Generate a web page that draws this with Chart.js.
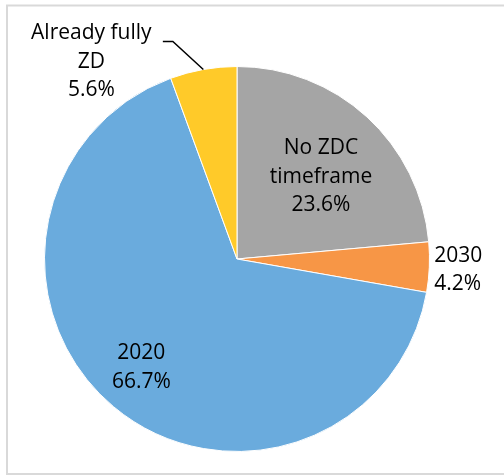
<!DOCTYPE html>
<html>
<head>
<meta charset="utf-8">
<title>ZDC timeframe</title>
<script src="https://cdn.jsdelivr.net/npm/chart.js@4/dist/chart.umd.min.js"></script>
<style>
  html, body { margin: 0; padding: 0; background: #ffffff; }
  #wrap { position: relative; width: 504px; height: 475px; }
</style>
</head>
<body>
<div id="wrap"><canvas id="chart" width="504" height="475"></canvas></div>
<script>
// Share of companies by zero-deforestation commitment timeframe
const categories = [['No ZDC', 'timeframe'], ['2030'], ['2020'], ['Already fully', 'ZD']];
const shares = [23.6, 4.2, 66.7, 5.6];
const sliceColors = ['#A5A5A5', '#F79646', '#6AABDD', '#FFCA29'];

// Where each data label sits relative to its slice (fraction of radius along the
// slice's middle angle, plus a small nudge). Outside labels may have a leader line.
const labelPlacement = [
  { rf: 0.60, dx: 6, dy: 3, align: 'center' },
  { rf: 1.00, dx: 5, dy: 3, align: 'left' },
  { rf: 0.75, dx: -3, dy: -2, align: 'center' },
  { rf: 1.00, dx: -112, dy: -7.5, align: 'center', leader: [[-30.5, -28], [-40.5, -28]] }
];

const frame = {
  id: 'frame',
  beforeDraw(chart) {
    const ctx = chart.ctx;
    ctx.save();
    ctx.fillStyle = '#ffffff';
    ctx.fillRect(0, 0, chart.width, chart.height);
    ctx.strokeStyle = '#D9D9D9';
    ctx.lineWidth = 2;
    ctx.strokeRect(7, 5.5, chart.width + 20, chart.height - 6.5);
    ctx.restore();
  }
};

const sliceLabels = {
  id: 'sliceLabels',
  afterDatasetsDraw(chart) {
    const ctx = chart.ctx;
    const meta = chart.getDatasetMeta(0);
    const lh = 28.5;
    ctx.save();
    ctx.font = '21px "Open Sans", "Noto Sans", sans-serif';
    ctx.fillStyle = '#000000';
    ctx.textBaseline = 'middle';
    meta.data.forEach((arc, i) => {
      const p = labelPlacement[i];
      const mid = (arc.startAngle + arc.endAngle) / 2;
      const r = arc.outerRadius * p.rf;
      const ax = arc.x + Math.cos(mid) * r;
      const ay = arc.y + Math.sin(mid) * r;
      if (p.leader) {
        ctx.beginPath();
        ctx.strokeStyle = '#000000';
        ctx.lineWidth = 1.5;
        ctx.moveTo(ax, ay);
        p.leader.forEach(([lx, ly]) => ctx.lineTo(ax + lx, ay + ly));
        ctx.stroke();
      }
      const lines = categories[i].concat([shares[i].toFixed(1) + '%']);
      const cx = ax + p.dx;
      const cy = ay + p.dy;
      ctx.textAlign = p.align;
      lines.forEach((t, k) => {
        ctx.fillText(t, cx, cy + (k - (lines.length - 1) / 2) * lh);
      });
    });
    ctx.restore();
  }
};

new Chart(document.getElementById('chart'), {
  type: 'pie',
  data: {
    labels: categories.map(c => c.join(' ')),
    datasets: [{
      data: shares,
      backgroundColor: sliceColors,
      borderColor: '#ffffff',
      borderWidth: 1,
      hoverOffset: 0
    }]
  },
  options: {
    responsive: false,
    animation: false,
    layout: { padding: { left: 44, right: 74, top: 66, bottom: 23 } },
    plugins: {
      legend: { display: false },
      tooltip: { enabled: false }
    }
  },
  plugins: [frame, sliceLabels]
});
</script>
</body>
</html>
